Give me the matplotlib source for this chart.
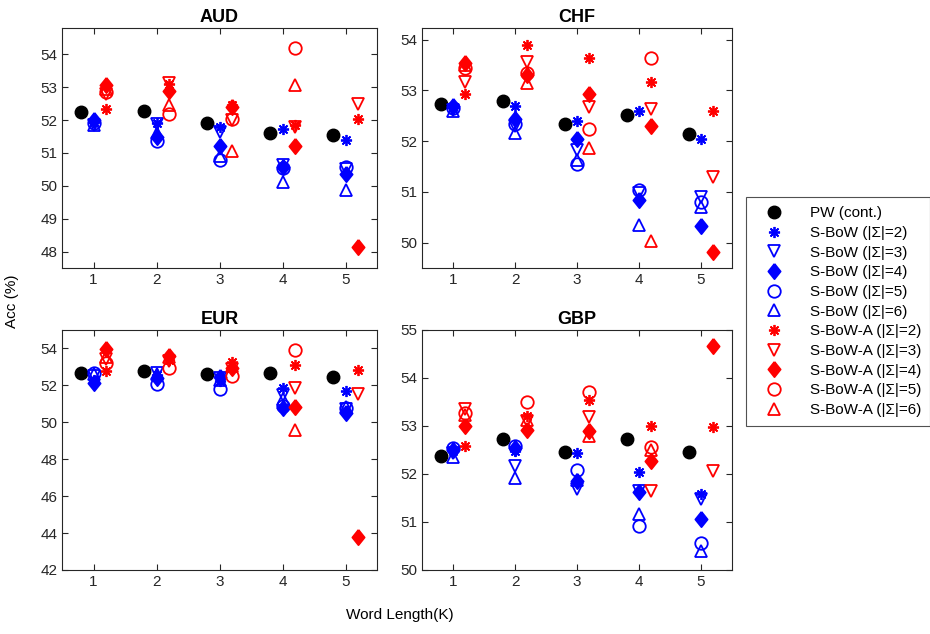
import numpy as np
import matplotlib.pyplot as plt

plt.rcParams['font.family'] = ['Liberation Sans', 'DejaVu Sans']

K = [1, 2, 3, 4, 5]
sigmas = [2, 3, 4, 5, 6]
nan = np.nan

# PW (cont.) accuracy per word length
aud_pw = [52.25, 52.28, 51.92, 51.62, 51.54]
chf_pw = [52.73, 52.80, 52.34, 52.52, 52.14]
eur_pw = [52.69, 52.78, 52.60, 52.65, 52.47]
gbp_pw = [52.38, 52.73, 52.45, 52.72, 52.45]

# S-BoW, rows = |Sigma| 2..6, cols = K 1..5
aud_sbow = [[51.95, 51.92, 51.78, 51.74, 51.39],
            [51.85, 51.88, 51.65, 50.63, 50.50],
            [52.00, 51.47, 51.22, 50.58, 50.36],
            [51.90, 51.35, 50.80, 50.53, 50.56],
            [51.85, 51.60, 50.90, 50.13, 49.87]]
chf_sbow = [[52.68, 52.70, 52.40, 52.59, 52.05],
            [52.62, 52.30, 51.83, 50.98, 50.90],
            [52.70, 52.44, 52.05, 50.85, 50.32],
            [52.65, 52.34, 51.54, 51.04, 50.80],
            [52.60, 52.16, 51.62, 50.34, 50.70]]
eur_sbow = [[52.30, 52.55, 52.25, 51.87, 51.69],
            [52.50, 52.65, 52.42, 51.46, 50.73],
            [52.15, 52.42, 52.47, 50.75, 50.48],
            [52.69, 52.05, 51.78, 50.88, 50.80],
            [52.60, 52.60, 52.30, 51.24, 50.84]]
gbp_sbow = [[52.47, 52.47, 52.44, 52.04, 51.59],
            [52.44, 52.16, 51.69, 51.64, 51.48],
            [52.50, 52.54, 51.85, 51.62, 51.07],
            [52.54, 52.58, 52.08, 50.92, 50.57],
            [52.36, 51.92, 51.88, 51.16, 50.40]]

# S-BoW-A, rows = |Sigma| 2..6, cols = K 1..5
aud_sbowa = [[52.35, 53.10, 52.45, 51.85, 52.02],
             [52.80, 53.13, 52.00, 51.80, 52.49],
             [53.06, 52.88, 52.40, 51.21, 48.15],
             [52.86, 52.17, 52.02, 54.20, nan],
             [52.96, 52.45, 51.07, 53.06, nan]]
chf_sbowa = [[52.92, 53.90, 53.63, 53.17, 52.59],
             [53.16, 53.57, 52.67, 52.64, 51.30],
             [53.55, 53.30, 52.93, 52.29, 49.82],
             [53.45, 53.35, 52.23, 53.63, nan],
             [53.50, 53.14, 51.87, 50.04, nan]]
eur_sbowa = [[52.78, 53.40, 53.27, 53.08, 52.83],
             [53.45, 53.30, 52.87, 51.87, 51.55],
             [53.95, 53.60, 52.96, 50.84, 43.80],
             [53.23, 52.96, 52.50, 53.92, nan],
             [53.55, 53.55, 53.05, 49.60, nan]]
gbp_sbowa = [[52.58, 53.20, 53.54, 53.01, 52.98],
             [53.36, 53.10, 53.19, 51.64, 52.07],
             [53.01, 52.91, 52.89, 52.28, 54.67],
             [53.28, 53.50, 53.71, 52.56, nan],
             [53.22, 53.12, 52.79, 52.50, nan]]

currencies = ['AUD', 'CHF', 'EUR', 'GBP']
pw_all = [aud_pw, chf_pw, eur_pw, gbp_pw]
sbow_all = [aud_sbow, chf_sbow, eur_sbow, gbp_sbow]
sbowa_all = [aud_sbowa, chf_sbowa, eur_sbowa, gbp_sbowa]
ylims = [(47.5, 54.8), (49.5, 54.23), (42, 55), (50, 55)]
yticks = [np.arange(48, 55, 1), np.arange(50, 55, 1),
          np.arange(42, 55, 2), np.arange(50, 56, 1)]

# axes boxes in figure fractions (left, bottom, width, height)
boxes = [(0.0667, 0.5773, 0.3387, 0.3785),
         (0.4538, 0.5773, 0.3333, 0.3785),
         (0.0667, 0.1010, 0.3387, 0.3785),
         (0.4538, 0.1010, 0.3333, 0.3785)]

# matlab-like diamond, a bit taller than wide
diamond = [(0, 1), (0.8, 0), (0, -1), (-0.8, 0), (0, 1)]

# marker per |Sigma|: asterisk, down triangle, filled diamond, circle, up triangle
marks = [(8, 2, 0), 'v', diamond, 'o', '^']
filled = [True, False, True, False, False]
msizes = [8, 9, 11, 9, 9]

fig = plt.figure(figsize=(9.3, 6.34), dpi=100)
handles = []
labels = []
kx = np.array(K)
for i, cur in enumerate(currencies):
    ax = fig.add_axes(boxes[i])
    h, = ax.plot(kx - 0.2, pw_all[i], 'o', color='black', ms=9, linestyle='none')
    if i == 0:
        handles.append(h)
        labels.append('PW (cont.)')
    for name, data, col, dx in [('S-BoW', sbow_all[i], 'blue', 0.0),
                                ('S-BoW-A', sbowa_all[i], 'red', 0.2)]:
        for j, s in enumerate(sigmas):
            fc = col if filled[j] else 'none'
            h, = ax.plot(kx + dx, data[j], linestyle='none', marker=marks[j],
                         ms=msizes[j], mfc=fc, mec=col, mew=1.3)
            if i == 0:
                handles.append(h)
                labels.append('%s (|Σ|=%d)' % (name, s))
    ax.set_xlim(0.5, 5.5)
    ax.set_ylim(*ylims[i])
    ax.set_xticks(K)
    ax.set_yticks(yticks[i])
    ax.set_title(cur, fontsize=13, fontweight='bold', pad=4)
    ax.tick_params(direction='in', top=True, right=True, labelsize=11,
                   colors='#262626', length=4)
    for sp in ax.spines.values():
        sp.set_color('#262626')
        sp.set_linewidth(0.8)

fig.text(0.013, 0.525, 'Acc (%)', rotation=90, ha='center', va='center', fontsize=11)
fig.text(0.43, 0.03, 'Word Length(K)', ha='center', va='center', fontsize=11)

leg = fig.legend(handles, labels, loc='center', bbox_to_anchor=(0.901, 0.5085),
                 fontsize=11, frameon=True, fancybox=False, edgecolor='#262626',
                 handlelength=2.5, handletextpad=1.1, labelspacing=0.37,
                 borderpad=0.6, borderaxespad=0)
leg.get_frame().set_linewidth(0.8)

fig.savefig('out.png', dpi=100)
